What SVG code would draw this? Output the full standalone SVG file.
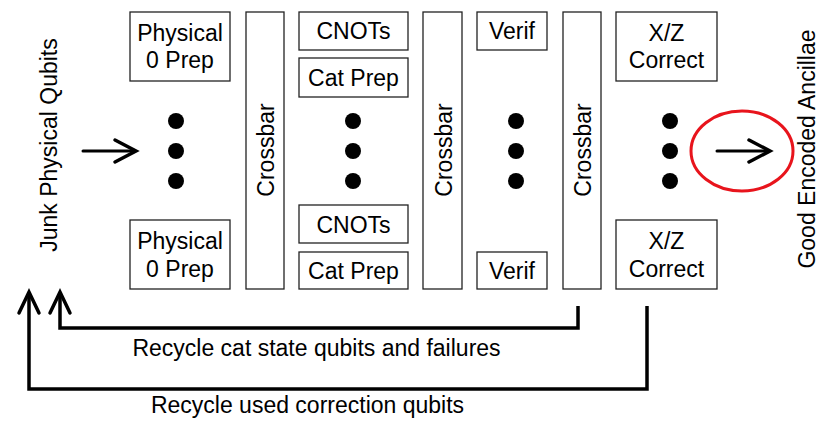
<svg xmlns="http://www.w3.org/2000/svg" width="831" height="422" viewBox="0 0 831 422">
  <style>
    .box { fill: #fff; stroke: #222; stroke-width: 1.3; }
    .lbl { font-family: "Liberation Sans", Arial, sans-serif; font-size: 23px; fill: #000; text-anchor: middle; }
    .dot { fill: #000; }
    .line { fill: none; stroke: #000; stroke-width: 3.5; stroke-linejoin: miter; }
    .head { fill: none; stroke: #000; stroke-width: 3.5; stroke-linecap: round; stroke-linejoin: miter; }
    .thin { fill: none; stroke: #000; stroke-width: 3; stroke-linecap: round; }
  </style>
  <rect width="831" height="422" fill="#fff"/>

  <!-- side labels -->
  <g id="junk-label">
    <text class="lbl" transform="translate(57,145) rotate(-90)">Junk Physical Qubits</text>
  </g>
  <g id="good-label">
    <text class="lbl" transform="translate(815,149) rotate(-90)">Good Encoded Ancillae</text>
  </g>

  <!-- stage 1: physical zero preparation -->
  <g id="prep-top">
    <rect class="box" x="130" y="12" width="100" height="69"/>
    <text class="lbl" x="180" y="41">Physical</text>
    <text class="lbl" x="180" y="68">0 Prep</text>
  </g>
  <g id="prep-dots">
    <circle class="dot" cx="176" cy="121" r="8"/>
    <circle class="dot" cx="176" cy="151" r="8"/>
    <circle class="dot" cx="176" cy="181" r="8"/>
  </g>
  <g id="prep-bottom">
    <rect class="box" x="130" y="220" width="100" height="69"/>
    <text class="lbl" x="180" y="249">Physical</text>
    <text class="lbl" x="180" y="277">0 Prep</text>
  </g>

  <g id="crossbar-1">
    <rect class="box" x="246" y="12" width="38" height="277"/>
    <text class="lbl" transform="translate(274,150) rotate(-90)">Crossbar</text>
  </g>

  <!-- stage 2: cat state preparation -->
  <g id="cnots-top">
    <rect class="box" x="299" y="12" width="109" height="38"/>
    <text class="lbl" x="353.5" y="39">CNOTs</text>
  </g>
  <g id="catprep-top">
    <rect class="box" x="299" y="58" width="109" height="39"/>
    <text class="lbl" x="353.5" y="86">Cat Prep</text>
  </g>
  <g id="cat-dots">
    <circle class="dot" cx="353" cy="121" r="8"/>
    <circle class="dot" cx="353" cy="151" r="8"/>
    <circle class="dot" cx="353" cy="181" r="8"/>
  </g>
  <g id="cnots-bottom">
    <rect class="box" x="299" y="205" width="109" height="38"/>
    <text class="lbl" x="353.5" y="233">CNOTs</text>
  </g>
  <g id="catprep-bottom">
    <rect class="box" x="299" y="252" width="109" height="37"/>
    <text class="lbl" x="353.5" y="279">Cat Prep</text>
  </g>

  <g id="crossbar-2">
    <rect class="box" x="423" y="12" width="39" height="277"/>
    <text class="lbl" transform="translate(452,150) rotate(-90)">Crossbar</text>
  </g>

  <!-- stage 3: verification -->
  <g id="verif-top">
    <rect class="box" x="477" y="12" width="70" height="38"/>
    <text class="lbl" x="512" y="39">Verif</text>
  </g>
  <g id="verif-dots">
    <circle class="dot" cx="516" cy="121" r="8"/>
    <circle class="dot" cx="516" cy="151" r="8"/>
    <circle class="dot" cx="516" cy="181" r="8"/>
  </g>
  <g id="verif-bottom">
    <rect class="box" x="477" y="252" width="70" height="37"/>
    <text class="lbl" x="512" y="279">Verif</text>
  </g>

  <g id="crossbar-3">
    <rect class="box" x="563" y="12" width="38" height="277"/>
    <text class="lbl" transform="translate(591,150) rotate(-90)">Crossbar</text>
  </g>

  <!-- stage 4: X/Z correction -->
  <g id="correct-top">
    <rect class="box" x="616" y="12" width="101" height="69"/>
    <text class="lbl" x="666.5" y="41">X/Z</text>
    <text class="lbl" x="666.5" y="68">Correct</text>
  </g>
  <g id="correct-dots">
    <circle class="dot" cx="670" cy="121" r="8"/>
    <circle class="dot" cx="670" cy="151" r="8"/>
    <circle class="dot" cx="670" cy="181" r="8"/>
  </g>
  <g id="correct-bottom">
    <rect class="box" x="616" y="220" width="101" height="69"/>
    <text class="lbl" x="666.5" y="249">X/Z</text>
    <text class="lbl" x="666.5" y="277">Correct</text>
  </g>

  <g id="output-highlight">
    <ellipse cx="742" cy="151" rx="51" ry="40" fill="none" stroke="#e8141c" stroke-width="3"/>
  </g>

  <!-- connectors -->
  <g id="connectors">
    <!-- input arrow -->
    <line class="thin" x1="83" y1="151" x2="135" y2="151"/>
    <polyline class="head" points="115,140 136,151 115,162" stroke-width="3"/>
    <!-- output arrow -->
    <line class="thin" x1="717" y1="151" x2="769" y2="151"/>
    <polyline class="head" points="749,140 770,151 749,162" stroke-width="3"/>
    <!-- recycle cat state qubits and failures -->
    <polyline class="line" points="578,306 578,328 60,328 60,293"/>
    <polyline class="head" points="50,313 60,292 70,313"/>
    <!-- recycle used correction qubits -->
    <polyline class="line" points="647,306 647,389 29,389 29,293"/>
    <polyline class="head" points="19,313 29,292 39,313"/>
  </g>

  <g id="recycle-labels">
    <text class="lbl" x="316.5" y="356">Recycle cat state qubits and failures</text>
    <text class="lbl" x="307.5" y="413">Recycle used correction qubits</text>
  </g>
</svg>
